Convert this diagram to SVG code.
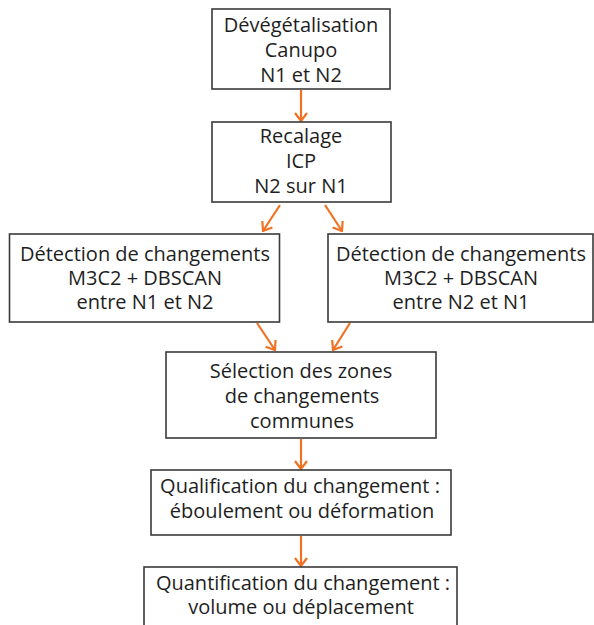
<svg xmlns="http://www.w3.org/2000/svg" width="594" height="625" viewBox="0 0 594 625">
<defs>
<style>
.box{fill:#fff;stroke:#3a3a3a;stroke-width:1.6}
.t{font-family:"Open Sans","Noto Sans",sans-serif;font-size:20px;fill:#1e1e1e;text-anchor:middle}
.c{stroke:#f07122;stroke-width:2.2;fill:none}
</style>
<marker id="ah" viewBox="0 0 10 14" refX="9" refY="7" markerWidth="10" markerHeight="14" markerUnits="userSpaceOnUse" orient="auto">
<path d="M1,1 L9,7 L1,13" fill="none" stroke="#f07122" stroke-width="2.2"/>
</marker>
</defs>
<rect width="594" height="625" fill="#fff"/>
<g id="connectors">
<line class="c" x1="301" y1="90" x2="301" y2="121" marker-end="url(#ah)"/>
<line class="c" x1="280" y1="205" x2="263" y2="231" marker-end="url(#ah)"/>
<line class="c" x1="325" y1="205" x2="342" y2="231" marker-end="url(#ah)"/>
<line class="c" x1="257" y1="323" x2="275" y2="350" marker-end="url(#ah)"/>
<line class="c" x1="350" y1="323" x2="333" y2="350" marker-end="url(#ah)"/>
<line class="c" x1="301" y1="439" x2="301" y2="469" marker-end="url(#ah)"/>
<line class="c" x1="301" y1="536" x2="301" y2="566" marker-end="url(#ah)"/>
</g>
<g id="devegetalisation">
<rect class="box" x="212" y="9" width="178" height="80"/>
<text class="t" x="301" y="32">Dévégétalisation</text>
<text class="t" x="301" y="57">Canupo</text>
<text class="t" x="301" y="82">N1 et N2</text>
</g>
<g id="recalage">
<rect class="box" x="212" y="122" width="179" height="80"/>
<text class="t" x="301" y="143">Recalage</text>
<text class="t" x="301" y="168">ICP</text>
<text class="t" x="301" y="193">N2 sur N1</text>
</g>
<g id="detection1">
<rect class="box" x="9.5" y="234" width="270" height="88"/>
<text class="t" x="145" y="261">Détection de changements</text>
<text class="t" x="145" y="285">M3C2 + DBSCAN</text>
<text class="t" x="145" y="309">entre N1 et N2</text>
</g>
<g id="detection2">
<rect class="box" x="328" y="234" width="265" height="88"/>
<text class="t" x="461" y="261">Détection de changements</text>
<text class="t" x="461" y="285">M3C2 + DBSCAN</text>
<text class="t" x="461" y="309">entre N2 et N1</text>
</g>
<g id="selection">
<rect class="box" x="166" y="352" width="270" height="86"/>
<text class="t" x="301" y="378">Sélection des zones</text>
<text class="t" x="302" y="403">de changements</text>
<text class="t" x="302" y="428">communes</text>
</g>
<g id="qualification">
<rect class="box" x="151" y="470" width="300" height="65"/>
<text class="t" x="300" y="493">Qualification du changement :</text>
<text class="t" x="302" y="518">éboulement ou déformation</text>
</g>
<g id="quantification">
<rect class="box" x="144" y="567" width="313" height="75"/>
<text class="t" x="303" y="590">Quantification du changement :</text>
<text class="t" x="301" y="614">volume ou déplacement</text>
</g>
</svg>
